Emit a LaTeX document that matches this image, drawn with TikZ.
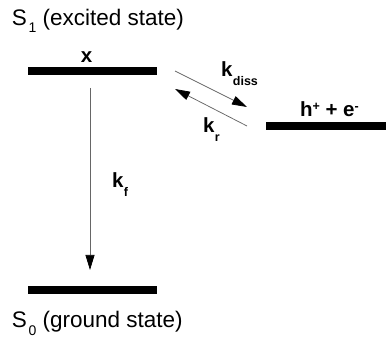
\documentclass[tikz,border=0pt]{standalone}
\usepackage{fontspec}
\setmainfont{Liberation Sans}
\usetikzlibrary{arrows.meta}
\newcommand{\lowsub}[3]{\raisebox{-#1pt}{\fontsize{#2}{#2}\selectfont #3}}
\begin{document}
\begin{tikzpicture}[x=1pt,y=-1pt,
  level/.style={draw=none,fill=black,minimum width=129pt,minimum height=8pt,inner sep=0pt,outer sep=0pt},
  lbl/.style={inner sep=0pt,outer sep=0pt,anchor=base west,font=\fontsize{22.5}{23}\selectfont},
  blbl/.style={inner sep=0pt,outer sep=0pt,anchor=base west,font=\fontsize{20.5}{21}\selectfont\bfseries},
  rate/.style={draw=black!60,line width=0.75pt,-{Triangle[length=15pt,width=9pt,color=black]}}]
\useasboundingbox (0,0) rectangle (386,342);
% levels
\node[level] (s1) at (92.5,71) {};
\node[level] (s0) at (92.5,290) {};
\node[level,minimum width=122pt] (ct) at (327,126) {};
% labels
\node[lbl] (s1t) at (12,26) {S\hspace{1.5pt}\lowsub{7}{14}{1} (excited state)};
\node[lbl] (s0t) at (12,327) {S\hspace{1.5pt}\lowsub{8}{14}{0} (ground state)};
\node[blbl,anchor=base] (xt) at (86.5,63) {x};
\node[blbl] (ht) at (300,117) {h\raisebox{6pt}{\fontsize{12.5}{12.5}\selectfont +} + e\raisebox{6pt}{\fontsize{12.5}{12.5}\selectfont -}};
\node[blbl] (kf) at (112,188) {k\hspace{0.5pt}\lowsub{9}{12.5}{f}};
\node[blbl] (kd) at (221,77) {k\hspace{0.5pt}\lowsub{9}{12.5}{diss}};
\node[blbl] (kr) at (203,133) {k\hspace{0.5pt}\lowsub{9}{12.5}{r}};
% connectors
\coordinate (fa) at (90,88);
\coordinate (fb) at (90,270);
\draw[rate] (fa) -- (fb);
\coordinate (da) at (175,71);
\coordinate (db) at (247,107);
\draw[rate] (da) -- (db);
\coordinate (ra) at (247,126);
\coordinate (rb) at (175,89);
\draw[rate] (ra) -- (rb);
\end{tikzpicture}
\end{document}
